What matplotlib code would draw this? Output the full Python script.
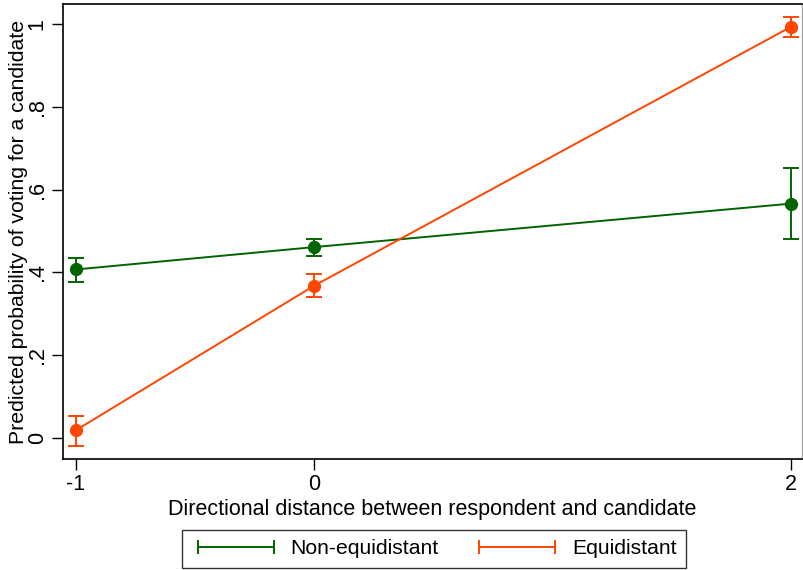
import matplotlib.pyplot as plt
from matplotlib.lines import Line2D

plt.rcParams['font.family'] = ['Liberation Sans', 'DejaVu Sans']

# distance categories
dist = [-1, 0, 2]

# non-equidistant: estimate and CI
non_eq = [0.407, 0.461, 0.566]
non_eq_lo = [0.377, 0.440, 0.480]
non_eq_hi = [0.435, 0.481, 0.653]

# equidistant: estimate and CI
eq = [0.019, 0.368, 0.993]
eq_lo = [-0.019, 0.341, 0.969]
eq_hi = [0.052, 0.396, 1.017]

green = '#006400'
orange = '#FF4500'

fig = plt.figure(figsize=(8.04, 5.70), dpi=100)
ax = fig.add_axes([63/804, 1 - 459/570, (802 - 63)/804, (459 - 4)/570])

def draw(y, lo, hi, col):
    err = [[v - l for v, l in zip(y, lo)], [h - v for v, h in zip(y, hi)]]
    ax.errorbar(dist, y, yerr=err, fmt='none', ecolor=col, elinewidth=1.4,
                capsize=6, capthick=1.4)
    ax.plot(dist, y, color=col, lw=1.4)
    ax.plot(dist, y, 'o', color=col, ms=8.5)

draw(non_eq, non_eq_lo, non_eq_hi, green)
draw(eq, eq_lo, eq_hi, orange)

ax.set_xlim(-1.0545, 2.046)
ax.set_ylim(-0.0507, 1.048)
ax.set_xticks(dist)
ax.set_xticklabels(['-1', '0', '2'])
ax.set_yticks([0, 0.2, 0.4, 0.6, 0.8, 1])
ax.set_yticklabels(['0', '.2', '.4', '.6', '.8', '1'], rotation=90, va='center')
ax.tick_params(labelsize=15.5, length=8, width=1, color='black', pad=3)

for s in ['left', 'bottom', 'top']:
    ax.spines[s].set_linewidth(1.2)
ax.spines['right'].set_color('#a0a0a0')

ax.set_xlabel('Directional distance between respondent and candidate', fontsize=15.5, labelpad=2.5)
ax.set_ylabel('Predicted probability of voting for a candidate', fontsize=15.3, labelpad=-1)

# legend keys: horizontal line with caps at both ends
handles = [Line2D([], [], color=green, lw=1.4, marker='|', ms=10, mew=1.4),
           Line2D([], [], color=orange, lw=1.4, marker='|', ms=10, mew=1.4)]
labels = ['Non-equidistant', 'Equidistant']
leg = fig.legend(handles, labels, loc='center', bbox_to_anchor=(434/804, 1 - 549/570), ncol=2,
                 fontsize=15.2, frameon=True, fancybox=False, edgecolor='black',
                 numpoints=2, handlelength=4.2, handletextpad=0.5, columnspacing=1.6,
                 borderpad=0.45, borderaxespad=0)
leg.get_frame().set_linewidth(1.0)

fig.savefig('out.png', dpi=100)
